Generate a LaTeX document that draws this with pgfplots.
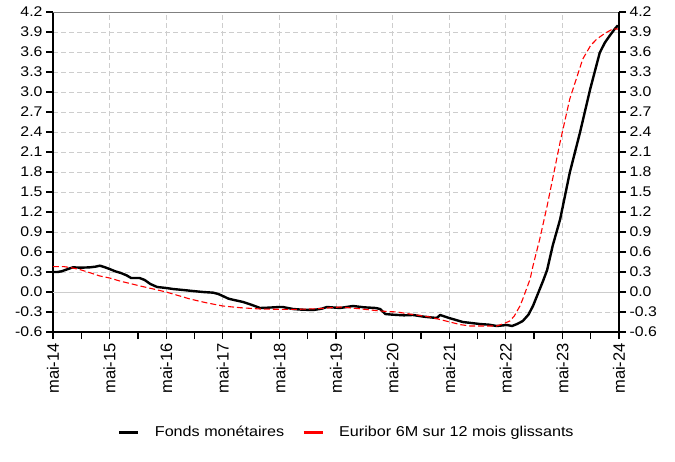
\documentclass[border=0pt]{standalone}
\usepackage{pgfplots}
\pgfplotsset{compat=1.18}
\usepackage{fontspec}
\setmainfont{Liberation Sans}
\newfontfamily\wide{Liberation Sans}[FakeStretch=1.13]
\newcommand\xl{\fontsize{16.5}{18}\selectfont}
\definecolor{gridgray}{RGB}{205,205,205}
\pgfplotstableread{
x y
0.00 0.30
0.08 0.30
0.15 0.31
0.25 0.34
0.35 0.37
0.50 0.365
0.65 0.37
0.75 0.38
0.83 0.395
0.92 0.37
1.00 0.345
1.10 0.31
1.20 0.285
1.30 0.25
1.38 0.21
1.53 0.21
1.62 0.18
1.72 0.12
1.84 0.075
2.00 0.06
2.12 0.045
2.30 0.03
2.47 0.015
2.65 0.00
2.83 -0.01
2.92 -0.03
3.00 -0.06
3.10 -0.10
3.20 -0.12
3.36 -0.15
3.50 -0.19
3.66 -0.24
3.80 -0.235
4.00 -0.225
4.06 -0.225
4.24 -0.255
4.40 -0.265
4.60 -0.27
4.75 -0.25
4.84 -0.225
5.07 -0.24
5.30 -0.21
5.50 -0.23
5.70 -0.24
5.78 -0.255
5.87 -0.33
6.00 -0.34
6.20 -0.35
6.36 -0.345
6.55 -0.37
6.78 -0.39
6.84 -0.345
7.00 -0.39
7.24 -0.45
7.54 -0.48
7.70 -0.49
7.84 -0.51
8.02 -0.495
8.11 -0.51
8.20 -0.48
8.30 -0.435
8.40 -0.34
8.48 -0.21
8.57 -0.02
8.66 0.17
8.73 0.33
8.83 0.70
8.96 1.09
9.13 1.79
9.31 2.39
9.49 3.04
9.66 3.59
9.75 3.74
9.84 3.85
9.92 3.94
9.98 4.00
}\fonds
\pgfplotstableread{
x y
0.00 0.38
0.20 0.38
0.35 0.36
0.50 0.33
0.65 0.29
0.83 0.24
1.00 0.21
1.20 0.16
1.40 0.12
1.54 0.09
1.75 0.05
2.00 0.00
2.20 -0.05
2.42 -0.105
2.70 -0.16
3.00 -0.21
3.30 -0.235
3.66 -0.255
4.00 -0.26
4.30 -0.26
4.70 -0.25
5.07 -0.225
5.40 -0.25
5.78 -0.285
6.08 -0.30
6.30 -0.33
6.66 -0.375
7.01 -0.45
7.20 -0.49
7.37 -0.51
7.60 -0.51
7.84 -0.51
7.99 -0.465
8.07 -0.435
8.15 -0.36
8.25 -0.21
8.30 -0.105
8.43 0.195
8.48 0.39
8.60 0.795
8.73 1.29
8.96 2.25
9.13 2.895
9.36 3.495
9.50 3.70
9.61 3.795
9.75 3.88
9.89 3.945
10.00 3.945
}\euribor
\begin{document}
\begin{tikzpicture}
\pgfplotsset{
  common/.style={
    width=566pt, height=320pt, scale only axis,
    xmin=0, xmax=10, ymin=-0.6, ymax=4.2,
    ytick={-0.6,-0.3,...,4.25},
    xtick={0,...,10},
    tick align=outside,
    major tick length=7pt,
    minor tick length=7pt,
    every tick/.style={black, line width=1.3pt},
    every minor tick/.style={black, line width=1.3pt},
    axis line style={black, line width=1.2pt},
    yticklabel style={font=\wide\fontsize{14}{16}\selectfont, /pgf/number format/.cd, fixed, fixed zerofill, precision=1, assume math mode=true},
  }
}
\begin{axis}[common, name=ax,
  axis x line*=bottom, axis y line*=left,
  minor xtick={0.5,1.5,...,9.5},
  xticklabels={\xl mai-14,\xl mai-15,\xl mai-16,\xl mai-17,\xl mai-18,\xl mai-19,\xl mai-20,\xl mai-21,\xl mai-22,\xl mai-23,\xl mai-24},
  xticklabel style={rotate=90, anchor=east, inner xsep=4pt},
  grid=major,
  major grid style={gridgray, line width=0.9pt, dash pattern=on 5pt off 3pt},
  extra y ticks={0}, extra y tick labels={},
  extra y tick style={grid=major, major grid style={gridgray, line width=0.9pt, solid}},
  clip=false,
  legend style={at={(0.519,-0.3125)}, anchor=center, draw=none, fill=none,
    legend columns=2, font=\wide\fontsize{14.3}{16}\selectfont,
    /tikz/every odd column/.append style={column sep=13pt},
    /tikz/every even column/.append style={column sep=16pt}},
  legend image code/.code={\draw[#1, line width=3pt] (0pt,0pt) -- (19pt,0pt);},
]
\draw[gray, line width=1pt] (rel axis cs:0,1) -- (rel axis cs:1,1);
\addlegendimage{black, solid}
\addlegendentry{Fonds monétaires}
\addlegendimage{red, solid}
\addlegendentry{Euribor 6M sur 12 mois glissants}
\addplot[black, line width=2.4pt, line join=round, forget plot] table[x=x,y=y] {\fonds};
\addplot[red, line width=1.1pt, dash pattern=on 6pt off 3pt, forget plot] table[x=x,y=y] {\euribor};
\end{axis}
\begin{axis}[common,
  axis x line=none, axis y line*=right,
  yticklabel pos=right,
]
\end{axis}
\path (ax.south west) ++(-53pt,-129pt) rectangle ++(675pt,461pt);
\end{tikzpicture}
\end{document}
